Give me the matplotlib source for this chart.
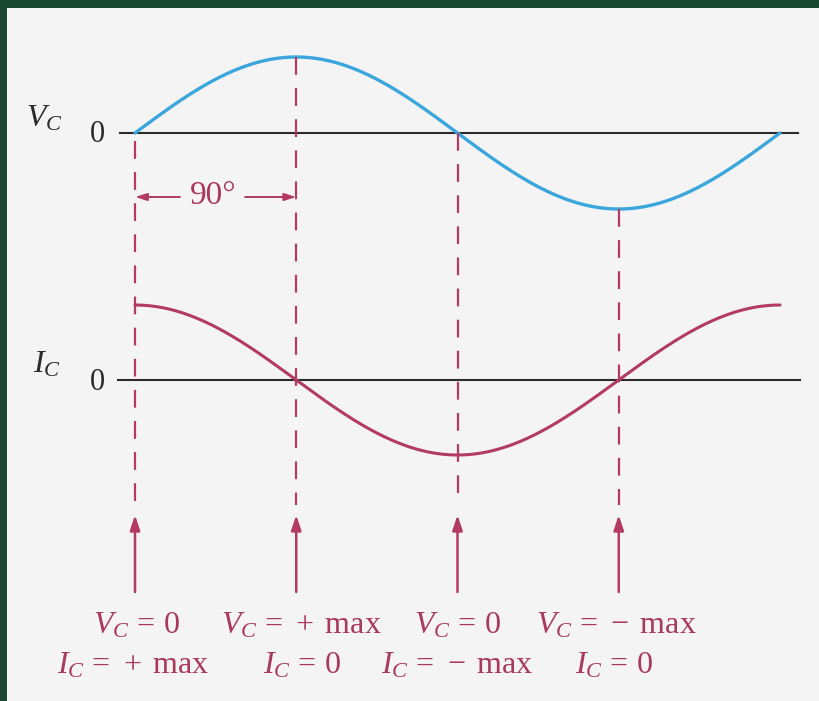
import numpy as np
import matplotlib.pyplot as plt
from matplotlib.patches import Rectangle

# phase points (degrees) where the markers sit, and the curve values there
phase_marks = [0, 90, 180, 270]
vc_at_marks = ["0", "+ max", "0", "\u2212 max"]
ic_at_marks = ["+ max", "0", "\u2212 max", "0"]

# one full cycle, sampled every degree
theta = np.arange(0, 361)
vc = np.sin(np.radians(theta))   # capacitor voltage
ic = np.cos(np.radians(theta))   # current leads by 90 degrees

# layout (pixel rows, figure is 819x701)
V_BASE, I_BASE = 133, 380
V_AMP, I_AMP = 76, 75
PX_PER_DEG = 645 / 360
X0 = 135

BLUE = "#3ba6dc"
RED = "#b33a62"
TXT_RED = "#a93a5c"
DARK = "#2b2b2b"

plt.rcParams["mathtext.fontset"] = "custom"
plt.rcParams["mathtext.rm"] = "Liberation Serif"
plt.rcParams["mathtext.it"] = "Liberation Serif:italic"
plt.rcParams["font.family"] = ["Liberation Serif", "DejaVu Serif"]

fig = plt.figure(figsize=(8.19, 7.01), dpi=100, facecolor="#1a4731")
# light page inside the green frame
fig.add_artist(Rectangle((7 / 819, 0), 812 / 819, 693 / 701,
                         transform=fig.transFigure, facecolor="#f4f4f4",
                         edgecolor="none", zorder=0))
ax = fig.add_axes([7 / 819, 0, 812 / 819, 693 / 701])
ax.set_xlim((7 - X0) / PX_PER_DEG, (819 - X0) / PX_PER_DEG)
ax.set_ylim(701, 8)
ax.axis("off")

def px(x_px):
    return (x_px - X0) / PX_PER_DEG

# zero lines
ax.plot([px(120), px(798)], [V_BASE, V_BASE], color=DARK, lw=1.5)
ax.plot([px(118), px(800)], [I_BASE, I_BASE], color=DARK, lw=1.5)

# curves
ax.plot(theta, V_BASE - V_AMP * vc, color=BLUE, lw=2.4, solid_capstyle="round")
ax.plot(theta, I_BASE - I_AMP * ic, color=RED, lw=2.2, solid_capstyle="round")

# dashed verticals, starting at the voltage curve
for p in phase_marks:
    v = np.sin(np.radians(p))
    top = V_BASE - V_AMP * v
    if p == 0:
        top = V_BASE + 8
    ax.plot([p, p], [top, 505], color=RED, lw=1.6, dashes=(8, 6))
    ax.annotate("", xy=(p, 515), xytext=(p, 592),
                arrowprops=dict(arrowstyle="-|>,head_length=0.9,head_width=0.3",
                                color=RED, lw=1.8, shrinkA=0, shrinkB=0))

# 90 degree span
ax.annotate("", xy=(0, 197), xytext=(px(180), 197),
            arrowprops=dict(arrowstyle="-|>,head_length=0.7,head_width=0.22",
                            color=RED, lw=1.4, shrinkA=0, shrinkB=0))
ax.annotate("", xy=(90, 197), xytext=(px(245), 197),
            arrowprops=dict(arrowstyle="-|>,head_length=0.7,head_width=0.22",
                            color=RED, lw=1.4, shrinkA=0, shrinkB=0))
ax.text(px(213), 196, "90°", color=TXT_RED, fontsize=24, ha="center", va="center")

# axis labels
ax.text(px(26), 119, r"$V_C$", color=DARK, fontsize=23, ha="left", va="center")
ax.text(px(97), 135, "0", color=DARK, fontsize=22, ha="center", va="center")
ax.text(px(33), 365, r"$I_C$", color=DARK, fontsize=23, ha="left", va="center")
ax.text(px(97), 382, "0", color=DARK, fontsize=22, ha="center", va="center")

def val_tex(sym, val):
    if val.startswith("+"):
        return r"$%s\,=\,+\;\mathrm{max}$" % sym
    if val.startswith("\u2212"):
        return r"$%s\,=\,-\;\mathrm{max}$" % sym
    return r"$%s\,=\,%s$" % (sym, val)

v_centers = [137, 301, 458, 616]
i_centers = [133, 302, 457, 614]
for vv, iv, cv, ci in zip(vc_at_marks, ic_at_marks, v_centers, i_centers):
    ax.text(px(cv), 626, val_tex("V_C", vv), color=TXT_RED, fontsize=23,
            ha="center", va="center")
    ax.text(px(ci), 666, val_tex("I_C", iv), color=TXT_RED, fontsize=23,
            ha="center", va="center")

fig.savefig("out.png", dpi=100, facecolor=fig.get_facecolor())
